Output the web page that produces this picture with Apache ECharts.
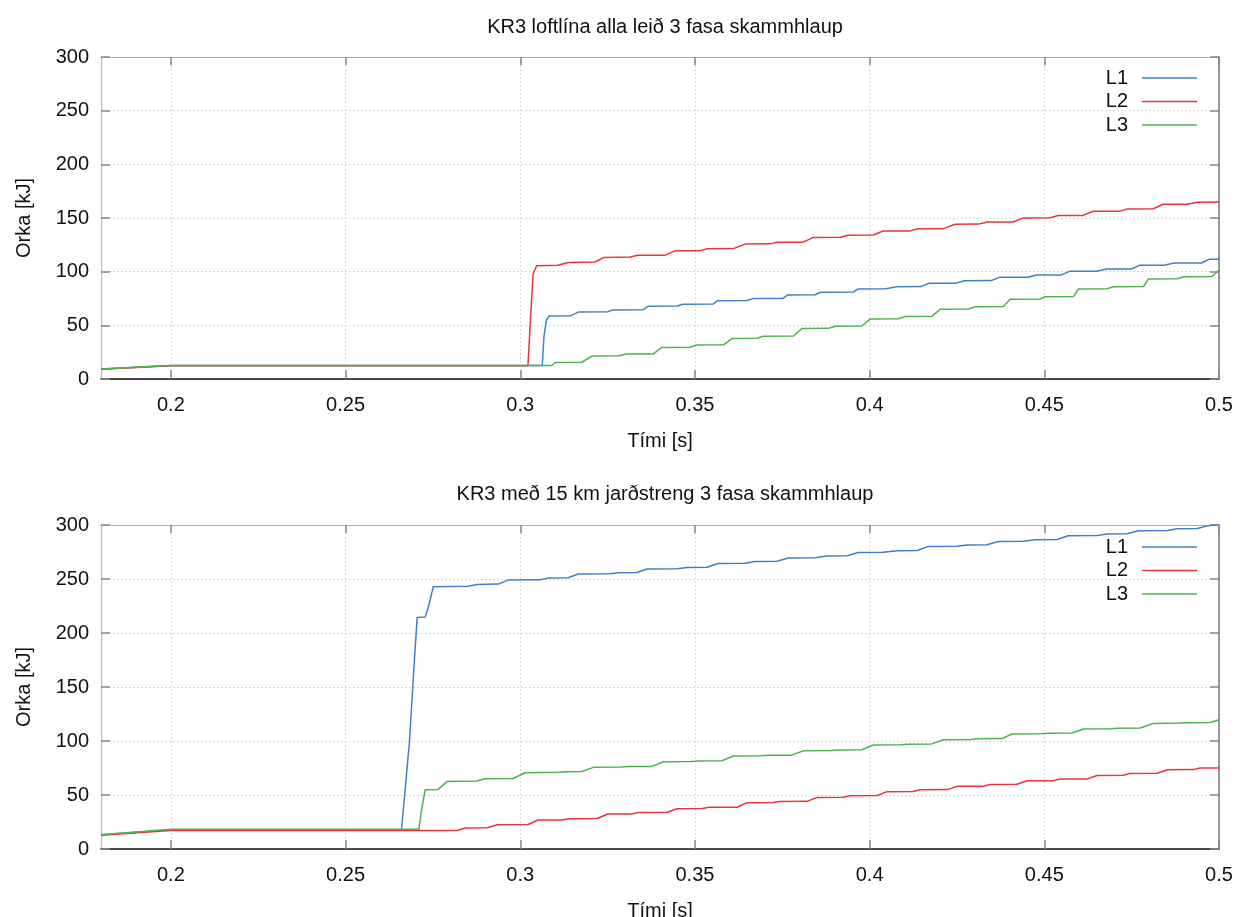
<!DOCTYPE html>
<html>
<head>
<meta charset="utf-8">
<script src="https://cdn.jsdelivr.net/npm/echarts@6/dist/echarts.min.js"></script>
<style>
html,body{margin:0;padding:0;background:#fff;}
#chart{width:1238px;height:917px;}
</style>
</head>
<body>
<div id="chart"></div>
<script>
// ---------- DATA ----------
const titles = ['KR3 loftlína alla leið 3 fasa skammhlaup', 'KR3 með 15 km jarðstreng 3 fasa skammhlaup'];
const seriesNames = ['L1', 'L2', 'L3'];
const xTicks = [0.2, 0.25, 0.3, 0.35, 0.4, 0.45, 0.5];
const xName = 'Tími [s]';
const yName = 'Orka [kJ]';

// Top chart: KR3 loftlína
const topL1 = [[0.18,9.3],[0.2,12.6],[0.3063,12.6],[0.3068,40],[0.3075,55],[0.3083,58.8],[0.3145,59.0],[0.3168,62.5],[0.3250,62.7],[0.3265,64.4],[0.3352,64.6],[0.3367,67.8],[0.3449,68.0],[0.3466,69.7],[0.3552,69.9],[0.3566,73.0],[0.3649,73.2],[0.3666,74.9],[0.3752,75.1],[0.3766,78.3],[0.3844,78.5],[0.3860,80.8],[0.3953,81.0],[0.3967,83.9],[0.4047,84.0],[0.4076,86.0],[0.4147,86.1],[0.4170,89.2],[0.4248,89.3],[0.4271,91.6],[0.4348,91.7],[0.4371,94.7],[0.4454,94.8],[0.4477,96.9],[0.4549,97.0],[0.4572,100.3],[0.4649,100.4],[0.4678,102.4],[0.4749,102.5],[0.4772,105.9],[0.4843,106.0],[0.4872,108.0],[0.4949,108.1],[0.4972,111.5],[0.5,111.6]];
const topL2 = [[0.18,9.0],[0.2,12.3],[0.3022,12.3],[0.3030,60],[0.3037,98],[0.3047,105.5],[0.3108,106.0],[0.3137,108.5],[0.3214,109.0],[0.3240,113.3],[0.3314,113.6],[0.3337,115.2],[0.3415,115.4],[0.3443,119.4],[0.3515,119.6],[0.3535,121.3],[0.3610,121.5],[0.3644,125.7],[0.3715,125.9],[0.3735,127.4],[0.3810,127.5],[0.3839,131.9],[0.3916,132.0],[0.3939,134.0],[0.4010,134.1],[0.4039,137.9],[0.4116,138.0],[0.4139,140.0],[0.4211,140.1],[0.4245,144.2],[0.4311,144.3],[0.4337,146.2],[0.4411,146.3],[0.4440,150.1],[0.4517,150.2],[0.4540,152.3],[0.4611,152.4],[0.4640,156.3],[0.4717,156.4],[0.4737,158.5],[0.4812,158.6],[0.4840,162.8],[0.4909,162.9],[0.4938,164.7],[0.5,164.8]];
const topL3 = [[0.18,9.3],[0.2,12.6],[0.3090,12.6],[0.3100,15.4],[0.3176,15.6],[0.3205,21.4],[0.3281,21.6],[0.3305,23.2],[0.3381,23.4],[0.3405,29.4],[0.3486,29.6],[0.3505,31.6],[0.3582,31.8],[0.3606,37.7],[0.3677,37.9],[0.3696,39.9],[0.3782,40.1],[0.3806,47.0],[0.3882,47.2],[0.3901,49.2],[0.3978,49.4],[0.4002,56.0],[0.4083,56.2],[0.4102,58.2],[0.4178,58.4],[0.4202,65.0],[0.4283,65.2],[0.4302,67.4],[0.4383,67.6],[0.4402,74.3],[0.4488,74.5],[0.4503,76.7],[0.4584,76.9],[0.4598,83.9],[0.4679,84.1],[0.4698,86.0],[0.4784,86.2],[0.4798,93.2],[0.4880,93.4],[0.4899,95.3],[0.4980,95.5],[0.5,101.5]];

// Bottom chart: KR3 með 15 km jarðstreng
const botL1 = [[0.18,13.2],[0.2,17.8],[0.2660,17.8],[0.2672,60],[0.2683,100],[0.2697,175],[0.2705,214.4],[0.2728,214.8],[0.2738,225],[0.2751,242.9],[0.2851,243.2],[0.2876,245.0],[0.2937,245.3],[0.2965,249.0],[0.3057,249.2],[0.3080,250.9],[0.3137,251.1],[0.3166,254.6],[0.3257,254.8],[0.3280,255.8],[0.3334,256.0],[0.3363,259.3],[0.3449,259.5],[0.3478,260.7],[0.3535,260.9],[0.3566,264.4],[0.3644,264.6],[0.3672,266.3],[0.3735,266.5],[0.3767,269.4],[0.3844,269.6],[0.3878,271.3],[0.3936,271.5],[0.3967,274.6],[0.4039,274.8],[0.4079,276.2],[0.4136,276.4],[0.4168,280.2],[0.4251,280.4],[0.4279,281.5],[0.4336,281.7],[0.4368,284.8],[0.4440,285.0],[0.4474,286.4],[0.4537,286.6],[0.4568,290.1],[0.4651,290.3],[0.4680,291.7],[0.4737,291.9],[0.4769,294.7],[0.4852,294.9],[0.4880,296.6],[0.4938,296.8],[0.4969,299.4],[0.5,301]];
const botL2 = [[0.18,12.8],[0.2,17.2],[0.2819,17.2],[0.2842,19.4],[0.2905,19.6],[0.2934,22.5],[0.3022,22.7],[0.3051,26.8],[0.3119,26.9],[0.3140,28.0],[0.3220,28.2],[0.3251,32.4],[0.3320,32.5],[0.3340,33.9],[0.3420,34.0],[0.3449,37.3],[0.3521,37.4],[0.3541,38.6],[0.3621,38.7],[0.3649,42.9],[0.3724,43.0],[0.3742,44.0],[0.3821,44.1],[0.3850,47.8],[0.3924,47.9],[0.3944,49.4],[0.4022,49.5],[0.4050,53.1],[0.4125,53.2],[0.4145,54.9],[0.4222,55.0],[0.4251,58.0],[0.4325,58.1],[0.4345,59.8],[0.4422,59.9],[0.4451,63.2],[0.4525,63.3],[0.4545,64.8],[0.4623,64.9],[0.4651,68.1],[0.4726,68.2],[0.4746,70.0],[0.4823,70.1],[0.4852,73.4],[0.4926,73.5],[0.4946,75.0],[0.5,75.1]];
const botL3 = [[0.18,13.2],[0.2,18.3],[0.2710,18.3],[0.2717,35],[0.2728,54.9],[0.2765,55.2],[0.2791,62.6],[0.2876,62.9],[0.2899,65.1],[0.2979,65.3],[0.3014,70.6],[0.3110,71.0],[0.3130,71.6],[0.3177,71.8],[0.3209,75.6],[0.3290,75.9],[0.3310,76.3],[0.3377,76.5],[0.3410,80.8],[0.3490,81.1],[0.3510,81.5],[0.3577,81.7],[0.3610,86.1],[0.3690,86.3],[0.3710,86.8],[0.3777,86.9],[0.3811,91.0],[0.3890,91.3],[0.3910,91.7],[0.3978,91.9],[0.4011,96.3],[0.4090,96.6],[0.4110,97.1],[0.4178,97.3],[0.4211,101.2],[0.4290,101.5],[0.4310,102.0],[0.4379,102.2],[0.4407,106.5],[0.4490,106.8],[0.4510,107.2],[0.4579,107.4],[0.4612,111.1],[0.4690,111.4],[0.4710,111.9],[0.4775,112.1],[0.4813,116.3],[0.4890,116.6],[0.4910,117.0],[0.4975,117.2],[0.5,119.7]];

// ---------- STYLE ----------
const FONT = '"Liberation Sans", Arial, sans-serif';
const colors = ['#3d80c6', '#e8343a', '#4cb34c'];
const grids = [
  {left: 101, top: 57, width: 1118, height: 322, outerBoundsMode: 'none', containLabel: false},
  {left: 101, top: 525, width: 1118, height: 324, outerBoundsMode: 'none', containLabel: false}
];
const splitLine = {show: true, lineStyle: {color: '#d8d8d8', type: [2, 2], width: 1}};

function xAxes(gi) {
  return [
    {type: 'value', gridIndex: gi, position: 'bottom', min: 0.18, max: 0.5,
     name: xName, nameLocation: 'middle', nameGap: 52,
     nameTextStyle: {fontFamily: FONT, fontSize: 20, color: '#111'},
     axisLine: {show: true, onZero: false, lineStyle: {color: '#111', width: 1.6}},
     axisTick: {show: true, inside: true, length: 9, customValues: xTicks, lineStyle: {color: '#888', width: 1.5}},
     axisLabel: {show: true, customValues: xTicks, margin: 16, fontFamily: FONT, fontSize: 20, color: '#111',
       formatter: v => String(+v.toFixed(2))},
     splitLine: splitLine},
    {type: 'value', gridIndex: gi, position: 'top', min: 0.18, max: 0.5,
     axisLine: {show: true, onZero: false, lineStyle: {color: '#aaa', width: 1.2}},
     axisTick: {show: true, inside: true, length: 8, customValues: xTicks, lineStyle: {color: '#888', width: 1.5}},
     axisLabel: {show: false}, splitLine: {show: false}}
  ];
}
function yAxes(gi) {
  return [
    {type: 'value', gridIndex: gi, position: 'left', min: 0, max: 300, interval: 50,
     name: yName, nameLocation: 'middle', nameGap: 67,
     nameTextStyle: {fontFamily: FONT, fontSize: 20, color: '#111'},
     axisLine: {show: true, onZero: false, lineStyle: {color: '#bbb', width: 1.2}},
     axisTick: {show: true, inside: true, length: 9, lineStyle: {color: '#888', width: 1.5}},
     axisLabel: {show: true, margin: 12, fontFamily: FONT, fontSize: 20, color: '#111'},
     splitLine: splitLine},
    {type: 'value', gridIndex: gi, position: 'right', min: 0, max: 300, interval: 50,
     axisLine: {show: true, onZero: false, lineStyle: {color: '#777', width: 1.5}},
     axisTick: {show: true, inside: true, length: 9, lineStyle: {color: '#888', width: 1.5}},
     axisLabel: {show: false}, splitLine: {show: false}}
  ];
}
function mkSeries(data, idx, gi) {
  return {
    type: 'line', name: seriesNames[idx], data: data,
    xAxisIndex: gi * 2, yAxisIndex: gi * 2,
    symbol: 'none', showSymbol: false,
    lineStyle: {color: colors[idx], width: 1.5},
    itemStyle: {color: colors[idx]},
    animation: false
  };
}
function mkLegend(top) {
  return {
    data: seriesNames, orient: 'vertical', right: 36, top: top, align: 'right',
    icon: 'rect', itemWidth: 55, itemHeight: 1.6, itemGap: 1.5,
    textStyle: {fontFamily: FONT, fontSize: 20, color: '#111', lineHeight: 22, padding: [0, 9, 0, 0]},
    selectedMode: false
  };
}

const option = {
  backgroundColor: '#fff',
  animation: false,
  title: [
    {text: titles[0], left: 660, textAlign: 'center', top: 12,
     textStyle: {fontFamily: FONT, fontSize: 20, fontWeight: 'normal', color: '#111'}},
    {text: titles[1], left: 660, textAlign: 'center', top: 479,
     textStyle: {fontFamily: FONT, fontSize: 20, fontWeight: 'normal', color: '#111'}}
  ],
  legend: [mkLegend(62), mkLegend(531)],
  grid: grids,
  xAxis: xAxes(0).concat(xAxes(1)),
  yAxis: yAxes(0).concat(yAxes(1)),
  series: [
    mkSeries(topL1, 0, 0), mkSeries(topL2, 1, 0), mkSeries(topL3, 2, 0),
    mkSeries(botL1, 0, 1), mkSeries(botL2, 1, 1), mkSeries(botL3, 2, 1)
  ]
};
const chart = echarts.init(document.getElementById('chart'), null, {renderer: 'canvas'});
chart.setOption(option);
</script>
</body>
</html>
